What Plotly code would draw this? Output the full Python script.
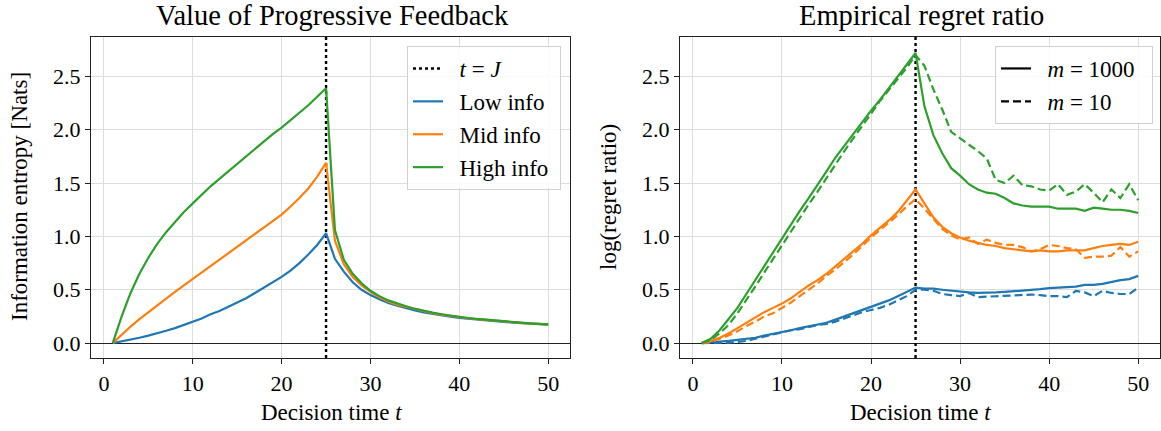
import plotly.graph_objects as go

t = list(range(1, 51))
J = 25

# left panel: information entropy
low_info = [0.0, 0.015, 0.035, 0.05, 0.07, 0.09, 0.115, 0.14, 0.17, 0.20, 0.23, 0.27, 0.30, 0.34, 0.38,
            0.42, 0.47, 0.52, 0.57, 0.62, 0.68, 0.75, 0.83, 0.92, 1.03,
            0.79, 0.67, 0.57, 0.50, 0.45, 0.41, 0.375, 0.35, 0.325, 0.305, 0.288, 0.273, 0.26, 0.248,
            0.237, 0.228, 0.22, 0.212, 0.205, 0.198, 0.192, 0.187, 0.182, 0.177, 0.173]
mid_info = [0.0, 0.08, 0.155, 0.225, 0.29, 0.355, 0.42, 0.48, 0.54, 0.60, 0.66, 0.72, 0.78, 0.84, 0.90,
            0.96, 1.02, 1.08, 1.14, 1.205, 1.28, 1.36, 1.45, 1.56, 1.69,
            0.96, 0.74, 0.62, 0.54, 0.48, 0.43, 0.39, 0.36, 0.34, 0.315, 0.297, 0.281, 0.267, 0.254,
            0.243, 0.233, 0.224, 0.216, 0.208, 0.201, 0.195, 0.189, 0.184, 0.179, 0.174]
high_info = [0.0, 0.25, 0.47, 0.65, 0.80, 0.93, 1.04, 1.14, 1.23, 1.31, 1.39, 1.47, 1.54, 1.61, 1.68,
             1.75, 1.82, 1.89, 1.96, 2.02, 2.09, 2.16, 2.23, 2.31, 2.39,
             1.06, 0.78, 0.65, 0.56, 0.49, 0.44, 0.40, 0.37, 0.345, 0.32, 0.30, 0.285, 0.27, 0.257,
             0.245, 0.235, 0.226, 0.218, 0.21, 0.203, 0.196, 0.19, 0.185, 0.18, 0.175]

# right panel: log regret ratio, m = 1000 (solid) and m = 10 (dashed)
low_m1000 = [0.0, 0.005, 0.01, 0.02, 0.03, 0.04, 0.05, 0.07, 0.085, 0.10, 0.12, 0.14, 0.155, 0.17, 0.19,
             0.22, 0.25, 0.28, 0.31, 0.34, 0.37, 0.40, 0.44, 0.48, 0.52,
             0.51, 0.51, 0.50, 0.49, 0.48, 0.475, 0.47, 0.47, 0.475, 0.48, 0.485, 0.49, 0.495, 0.505,
             0.515, 0.52, 0.52, 0.53, 0.545, 0.545, 0.555, 0.575, 0.59, 0.60, 0.63]
low_m10 = [0.0, 0.0, 0.0, 0.005, 0.01, 0.02, 0.04, 0.06, 0.08, 0.10, 0.12, 0.13, 0.15, 0.17, 0.18,
           0.20, 0.23, 0.26, 0.29, 0.31, 0.33, 0.36, 0.40, 0.44, 0.50,
           0.50, 0.49, 0.46, 0.45, 0.44, 0.47, 0.43, 0.435, 0.44, 0.44, 0.445, 0.45, 0.455, 0.45,
           0.44, 0.44, 0.43, 0.49, 0.475, 0.44, 0.49, 0.47, 0.46, 0.46, 0.52]
mid_m1000 = [0.0, 0.02, 0.05, 0.09, 0.14, 0.19, 0.24, 0.29, 0.33, 0.37, 0.42, 0.48, 0.54, 0.59, 0.65,
             0.72, 0.79, 0.86, 0.93, 1.01, 1.08, 1.15, 1.23, 1.33, 1.44,
             1.31, 1.18, 1.09, 1.03, 0.99, 0.96, 0.94, 0.92, 0.91, 0.89, 0.88, 0.87, 0.86, 0.87,
             0.86, 0.86, 0.87, 0.87, 0.87, 0.89, 0.91, 0.92, 0.93, 0.92, 0.95]
mid_m10 = [0.0, 0.01, 0.04, 0.07, 0.11, 0.16, 0.20, 0.25, 0.28, 0.33, 0.38, 0.44, 0.50, 0.56, 0.63,
           0.69, 0.76, 0.83, 0.91, 0.99, 1.06, 1.13, 1.20, 1.28, 1.35,
           1.26, 1.17, 1.07, 1.01, 0.97, 0.99, 0.93, 0.97, 0.94, 0.92, 0.92, 0.90, 0.86, 0.88,
           0.92, 0.91, 0.89, 0.88, 0.80, 0.81, 0.81, 0.82, 0.90, 0.81, 0.86]
high_m1000 = [0.0, 0.04, 0.12, 0.22, 0.33, 0.46, 0.59, 0.72, 0.86, 0.99, 1.12, 1.24, 1.36, 1.48, 1.61,
              1.74, 1.85, 1.97, 2.08, 2.18, 2.28, 2.39, 2.49, 2.60, 2.72,
              2.22, 1.95, 1.78, 1.64, 1.57, 1.49, 1.44, 1.41, 1.40, 1.36, 1.31, 1.29, 1.28, 1.28,
              1.28, 1.26, 1.26, 1.26, 1.24, 1.27, 1.26, 1.25, 1.25, 1.24, 1.22]
high_m10 = [0.0, 0.03, 0.09, 0.17, 0.28, 0.40, 0.53, 0.66, 0.79, 0.92, 1.05, 1.18, 1.30, 1.42, 1.55,
            1.68, 1.80, 1.92, 2.03, 2.15, 2.27, 2.37, 2.47, 2.58, 2.70,
            2.60, 2.38, 2.19, 1.98, 1.92, 1.86, 1.80, 1.73, 1.53, 1.50, 1.57, 1.48, 1.47, 1.44,
            1.43, 1.49, 1.39, 1.42, 1.49, 1.41, 1.32, 1.44, 1.36, 1.49, 1.34]

BLUE, ORANGE, GREEN = "#1f77b4", "#ff7f0e", "#2ca02c"
FONT = "Liberation Serif"
YR = [-0.14, 2.87]
XR = [-1.45, 52.45]
LW = 2.2
DASH = "8px,4px"
DOT = "3px,3px"
SP = "&nbsp;&nbsp;"

fig = go.Figure()

# left panel
fig.add_trace(go.Scatter(x=[J, J], y=YR, mode="lines", name=SP + "<i>t</i> = <i>J</i>", legendgroup="j",
                         line=dict(color="black", width=2.4, dash=DOT),
                         xaxis="x", yaxis="y", legend="legend"))
for name, ys, c in [("Low info", low_info, BLUE), ("Mid info", mid_info, ORANGE), ("High info", high_info, GREEN)]:
    fig.add_trace(go.Scatter(x=t, y=ys, mode="lines", name=SP + name + "&nbsp;", legendgroup=name,
                             line=dict(color=c, width=LW), xaxis="x", yaxis="y", legend="legend"))

# right panel
fig.add_trace(go.Scatter(x=[J, J], y=YR, mode="lines", showlegend=False,
                         line=dict(color="black", width=2.4, dash=DOT), xaxis="x2", yaxis="y2"))
for ys, c in [(low_m1000, BLUE), (mid_m1000, ORANGE), (high_m1000, GREEN)]:
    fig.add_trace(go.Scatter(x=t, y=ys, mode="lines", showlegend=False, line=dict(color=c, width=LW),
                             xaxis="x2", yaxis="y2"))
for ys, c in [(low_m10, BLUE), (mid_m10, ORANGE), (high_m10, GREEN)]:
    fig.add_trace(go.Scatter(x=t, y=ys, mode="lines", showlegend=False,
                             line=dict(color=c, width=LW, dash=DASH), xaxis="x2", yaxis="y2"))
fig.add_trace(go.Scatter(x=[None], y=[None], mode="lines", name=SP + "<i>m</i> = 1000" + SP,
                         legendgroup="m1000", line=dict(color="black", width=LW),
                         xaxis="x2", yaxis="y2", legend="legend2"))
fig.add_trace(go.Scatter(x=[None], y=[None], mode="lines", name=SP + "<i>m</i> = 10", legendgroup="m10",
                         line=dict(color="black", width=LW, dash=DASH), xaxis="x2", yaxis="y2",
                         legend="legend2"))

ax = dict(showline=True, mirror=True, linecolor="#222", linewidth=1.3, ticks="outside", ticklen=5,
          tickcolor="#222", showgrid=True, gridcolor="#dddddd", gridwidth=1, automargin=False,
          tickfont=dict(family=FONT, size=22, color="black"))
xdom_l = [91 / 1161, 570 / 1161]
xdom_r = [680 / 1161, 1160 / 1161]
ydom = [1 - 358 / 431, 1 - 37 / 431]

legend_style = dict(font=dict(family=FONT, size=23, color="black"), bgcolor="rgba(255,255,255,0.85)",
                    bordercolor="#d0d0d0", borderwidth=1, xanchor="left", yanchor="top", itemwidth=30,
                    tracegroupgap=0)


def label(text, x, y, size=23, angle=0):
    return dict(text=text, x=x / 1161, y=1 - y / 431, xref="paper", yref="paper", xanchor="center",
                yanchor="middle", showarrow=False, textangle=angle, font=dict(family=FONT, size=size))


fig.update_layout(
    width=1161, height=431, margin=dict(l=0, r=0, t=0, b=0, autoexpand=False),
    paper_bgcolor="white", plot_bgcolor="white",
    font=dict(family=FONT, size=22, color="black"),
    xaxis=dict(ax, domain=xdom_l, range=XR, tickvals=[0, 10, 20, 30, 40, 50], zeroline=False, anchor="y"),
    yaxis=dict(ax, domain=ydom, range=YR, tickvals=[0, 0.5, 1, 1.5, 2, 2.5], tickformat=".1f",
               zeroline=True, zerolinecolor="#222", zerolinewidth=1.3, anchor="x"),
    xaxis2=dict(ax, domain=xdom_r, range=XR, tickvals=[0, 10, 20, 30, 40, 50], zeroline=False, anchor="y2"),
    yaxis2=dict(ax, domain=ydom, range=YR, tickvals=[0, 0.5, 1, 1.5, 2, 2.5], tickformat=".1f",
                zeroline=True, zerolinecolor="#222", zerolinewidth=1.3, anchor="x2"),
    legend=dict(legend_style, x=407 / 1161, y=1 - 46 / 431),
    legend2=dict(legend_style, x=995 / 1161, y=1 - 46 / 431),
    annotations=[
        label("Value of Progressive Feedback", 332, 15, size=28.5),
        label("Empirical regret ratio", 921, 15, size=28.5),
        label("Decision time <i>t</i>", 331, 412),
        label("Decision time <i>t</i>", 920, 412),
        label("Information entropy [Nats]", 19, 197, angle=-90),
        label("log(regret ratio)", 608, 197, angle=-90),
    ],
)

fig.write_html("out.html", config={"displayModeBar": False},
               post_script="document.body.style.margin='0';")
